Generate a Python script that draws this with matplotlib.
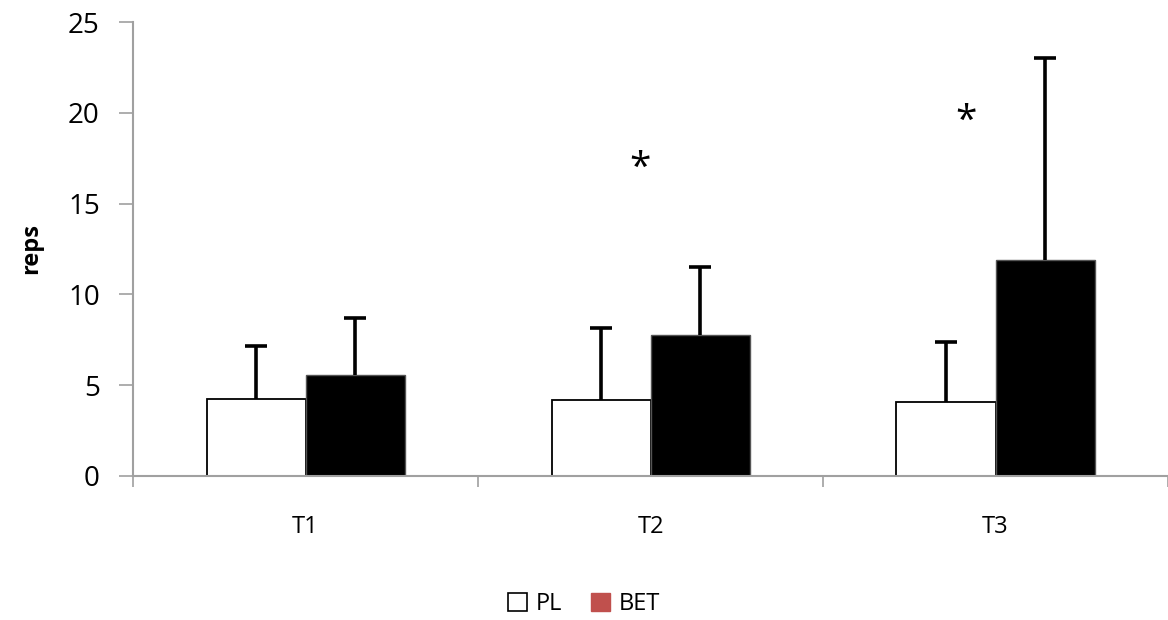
import numpy as np
import matplotlib
matplotlib.use("Agg")
import matplotlib.pyplot as plt
from matplotlib.patches import Patch

categories = ["T1", "T2", "T3"]
pl_mean = [4.25, 4.2, 4.1]
pl_err = [2.9, 3.95, 3.3]
bet_mean = [5.55, 7.75, 11.9]
bet_err = [3.15, 3.75, 11.1]
# significance stars (x in category units, y in reps)
star_x = [0.97, 1.915]
star_y = [16.9, 19.5]

plt.rcParams["font.family"] = ["Open Sans", "DejaVu Sans"]

fig = plt.figure(figsize=(11.68, 6.2), dpi=100)
ax = fig.add_axes([0.1139, 0.2323, 0.8861, 0.7322])

x = np.arange(len(categories))
w = 0.287
grey = "#A0A0A0"

ax.bar(x - w / 2, pl_mean, w, color="white", edgecolor="black", linewidth=1.3, zorder=2)
ax.bar(x + w / 2, bet_mean, w, color="black", edgecolor="#555555", linewidth=1, zorder=2)
ekw = dict(fmt="none", ecolor="black", elinewidth=2.6, capsize=8, capthick=2.6, zorder=3)
for xs, m, e in [(x - w / 2, pl_mean, pl_err), (x + w / 2, bet_mean, bet_err)]:
    _, caps, _ = ax.errorbar(xs, m, yerr=[np.zeros(3), e], **ekw)
    caps[0].set_visible(False)   # only the upper cap

for sx, sy in zip(star_x, star_y):
    ax.text(sx, sy, "*", ha="center", va="center", fontsize=28, color="black")

ax.set_xlim(-0.5, 2.5)
ax.set_ylim(0, 25)
ax.set_yticks(range(0, 26, 5))
ax.set_xticks([-0.5, 0.5, 1.5, 2.5])
ax.set_xticklabels([])
ax.set_xticks(x, minor=True)
ax.set_xticklabels(categories, minor=True, fontsize=17)
ax.tick_params(axis="x", which="minor", length=0, pad=28)
ax.tick_params(axis="x", which="major", length=8, color=grey, width=1.2)
ax.tick_params(axis="y", length=10, color=grey, width=1.2, labelsize=20, pad=14)

for s in ["top", "right"]:
    ax.spines[s].set_visible(False)
for s in ["left", "bottom"]:
    ax.spines[s].set_color(grey)
    ax.spines[s].set_linewidth(1.5)

ax.set_ylabel("reps", fontsize=17, fontweight="bold", labelpad=18)

handles = [Patch(facecolor="white", edgecolor="black", linewidth=1.2, label="PL"),
           Patch(facecolor="#C0504D", edgecolor="#C0504D", label="BET")]
fig.legend(handles=handles, loc="center", bbox_to_anchor=(0.5, 0.026), ncol=2, frameon=False,
           fontsize=17, handlelength=0.8, handleheight=0.8, handletextpad=0.4, columnspacing=1.2)

fig.savefig("out.png", dpi=100)
